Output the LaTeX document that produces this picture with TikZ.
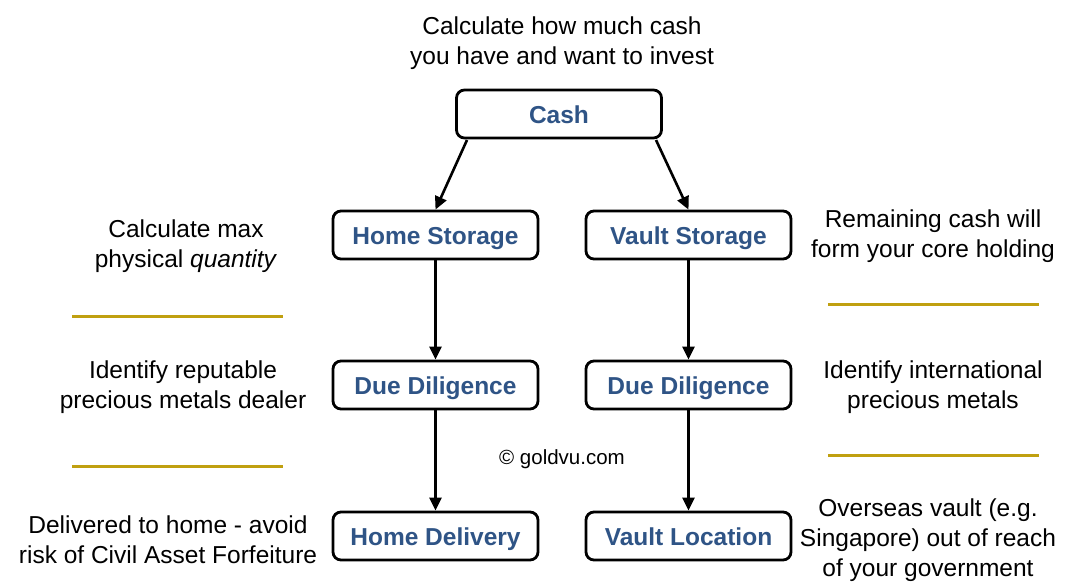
\documentclass[tikz,border=0pt]{standalone}
\usepackage{fontspec}
\setmainfont{Liberation Sans}
\usetikzlibrary{arrows.meta}
\definecolor{boxblue}{RGB}{47,84,134}
\definecolor{gold}{RGB}{192,160,16}
\begin{document}
\begin{tikzpicture}[x=1pt,y=-1pt,
  stepbox/.style={draw=black,line width=2.8pt,rounded corners=8pt,minimum width=205pt,minimum height=48pt,fill=white,text=boxblue,font=\fontsize{24.5}{28}\selectfont\bfseries,inner sep=0pt,text height=18pt,text depth=0pt},
  note/.style={align=center,font=\fontsize{24.5}{30}\selectfont,inner sep=0pt},
  arr/.style={line width=2.6pt,-{Triangle[length=13pt,width=12pt]}},
  goldline/.style={draw=gold,line width=3pt}]
\useasboundingbox (0,0) rectangle (1082,587);
\node[stepbox] (cash) at (559,114) {Cash};
\node[stepbox] (hs) at (435.5,235) {Home Storage};
\node[stepbox] (vs) at (688.5,235) {Vault Storage};
\node[stepbox] (dd1) at (435.5,385) {Due Diligence};
\node[stepbox] (dd2) at (688.5,385) {Due Diligence};
\node[stepbox] (hd) at (435.5,536) {Home Delivery};
\node[stepbox] (vl) at (688.5,536) {Vault Location};
\coordinate (c1) at (467,140);
\coordinate (c2) at (656,140);
\draw[arr] (c1) -- (hs.north);
\draw[arr] (c2) -- (vs.north);
\draw[arr] (hs) -- (dd1);
\draw[arr] (vs) -- (dd2);
\draw[arr] (dd1) -- (hd);
\draw[arr] (dd2) -- (vl);
\node[note] (t0) at (562,43) {Calculate how much cash\\you have and want to invest};
\node[note] (t1) at (186,246) {Calculate max\\physical \textit{quantity}};
\node[note] (t2) at (933,236) {Remaining cash will\\form your core holding};
\node[note] (t3) at (183,387) {Identify reputable\\precious metals dealer};
\node[note] (t4) at (933,387) {Identify international\\precious metals};
\node[note] (t5) at (168,540) {Delivered to home - avoid\\risk of Civil Asset Forfeiture};
\node[note] (t6) at (928,540) {Overseas vault (e.g.\\Singapore) out of reach\\of your government};
\node[note,font=\fontsize{20.5}{24}\selectfont] (cp) at (562,459) {\textcopyright{} goldvu.com};
\coordinate (g1a) at (72,316); \coordinate (g1b) at (283,316);
\coordinate (g2a) at (72,466); \coordinate (g2b) at (283,466);
\coordinate (g3a) at (828,304); \coordinate (g3b) at (1039,304);
\coordinate (g4a) at (828,455); \coordinate (g4b) at (1039,455);
\draw[goldline] (g1a) -- (g1b);
\draw[goldline] (g2a) -- (g2b);
\draw[goldline] (g3a) -- (g3b);
\draw[goldline] (g4a) -- (g4b);
\end{tikzpicture}
\end{document}
